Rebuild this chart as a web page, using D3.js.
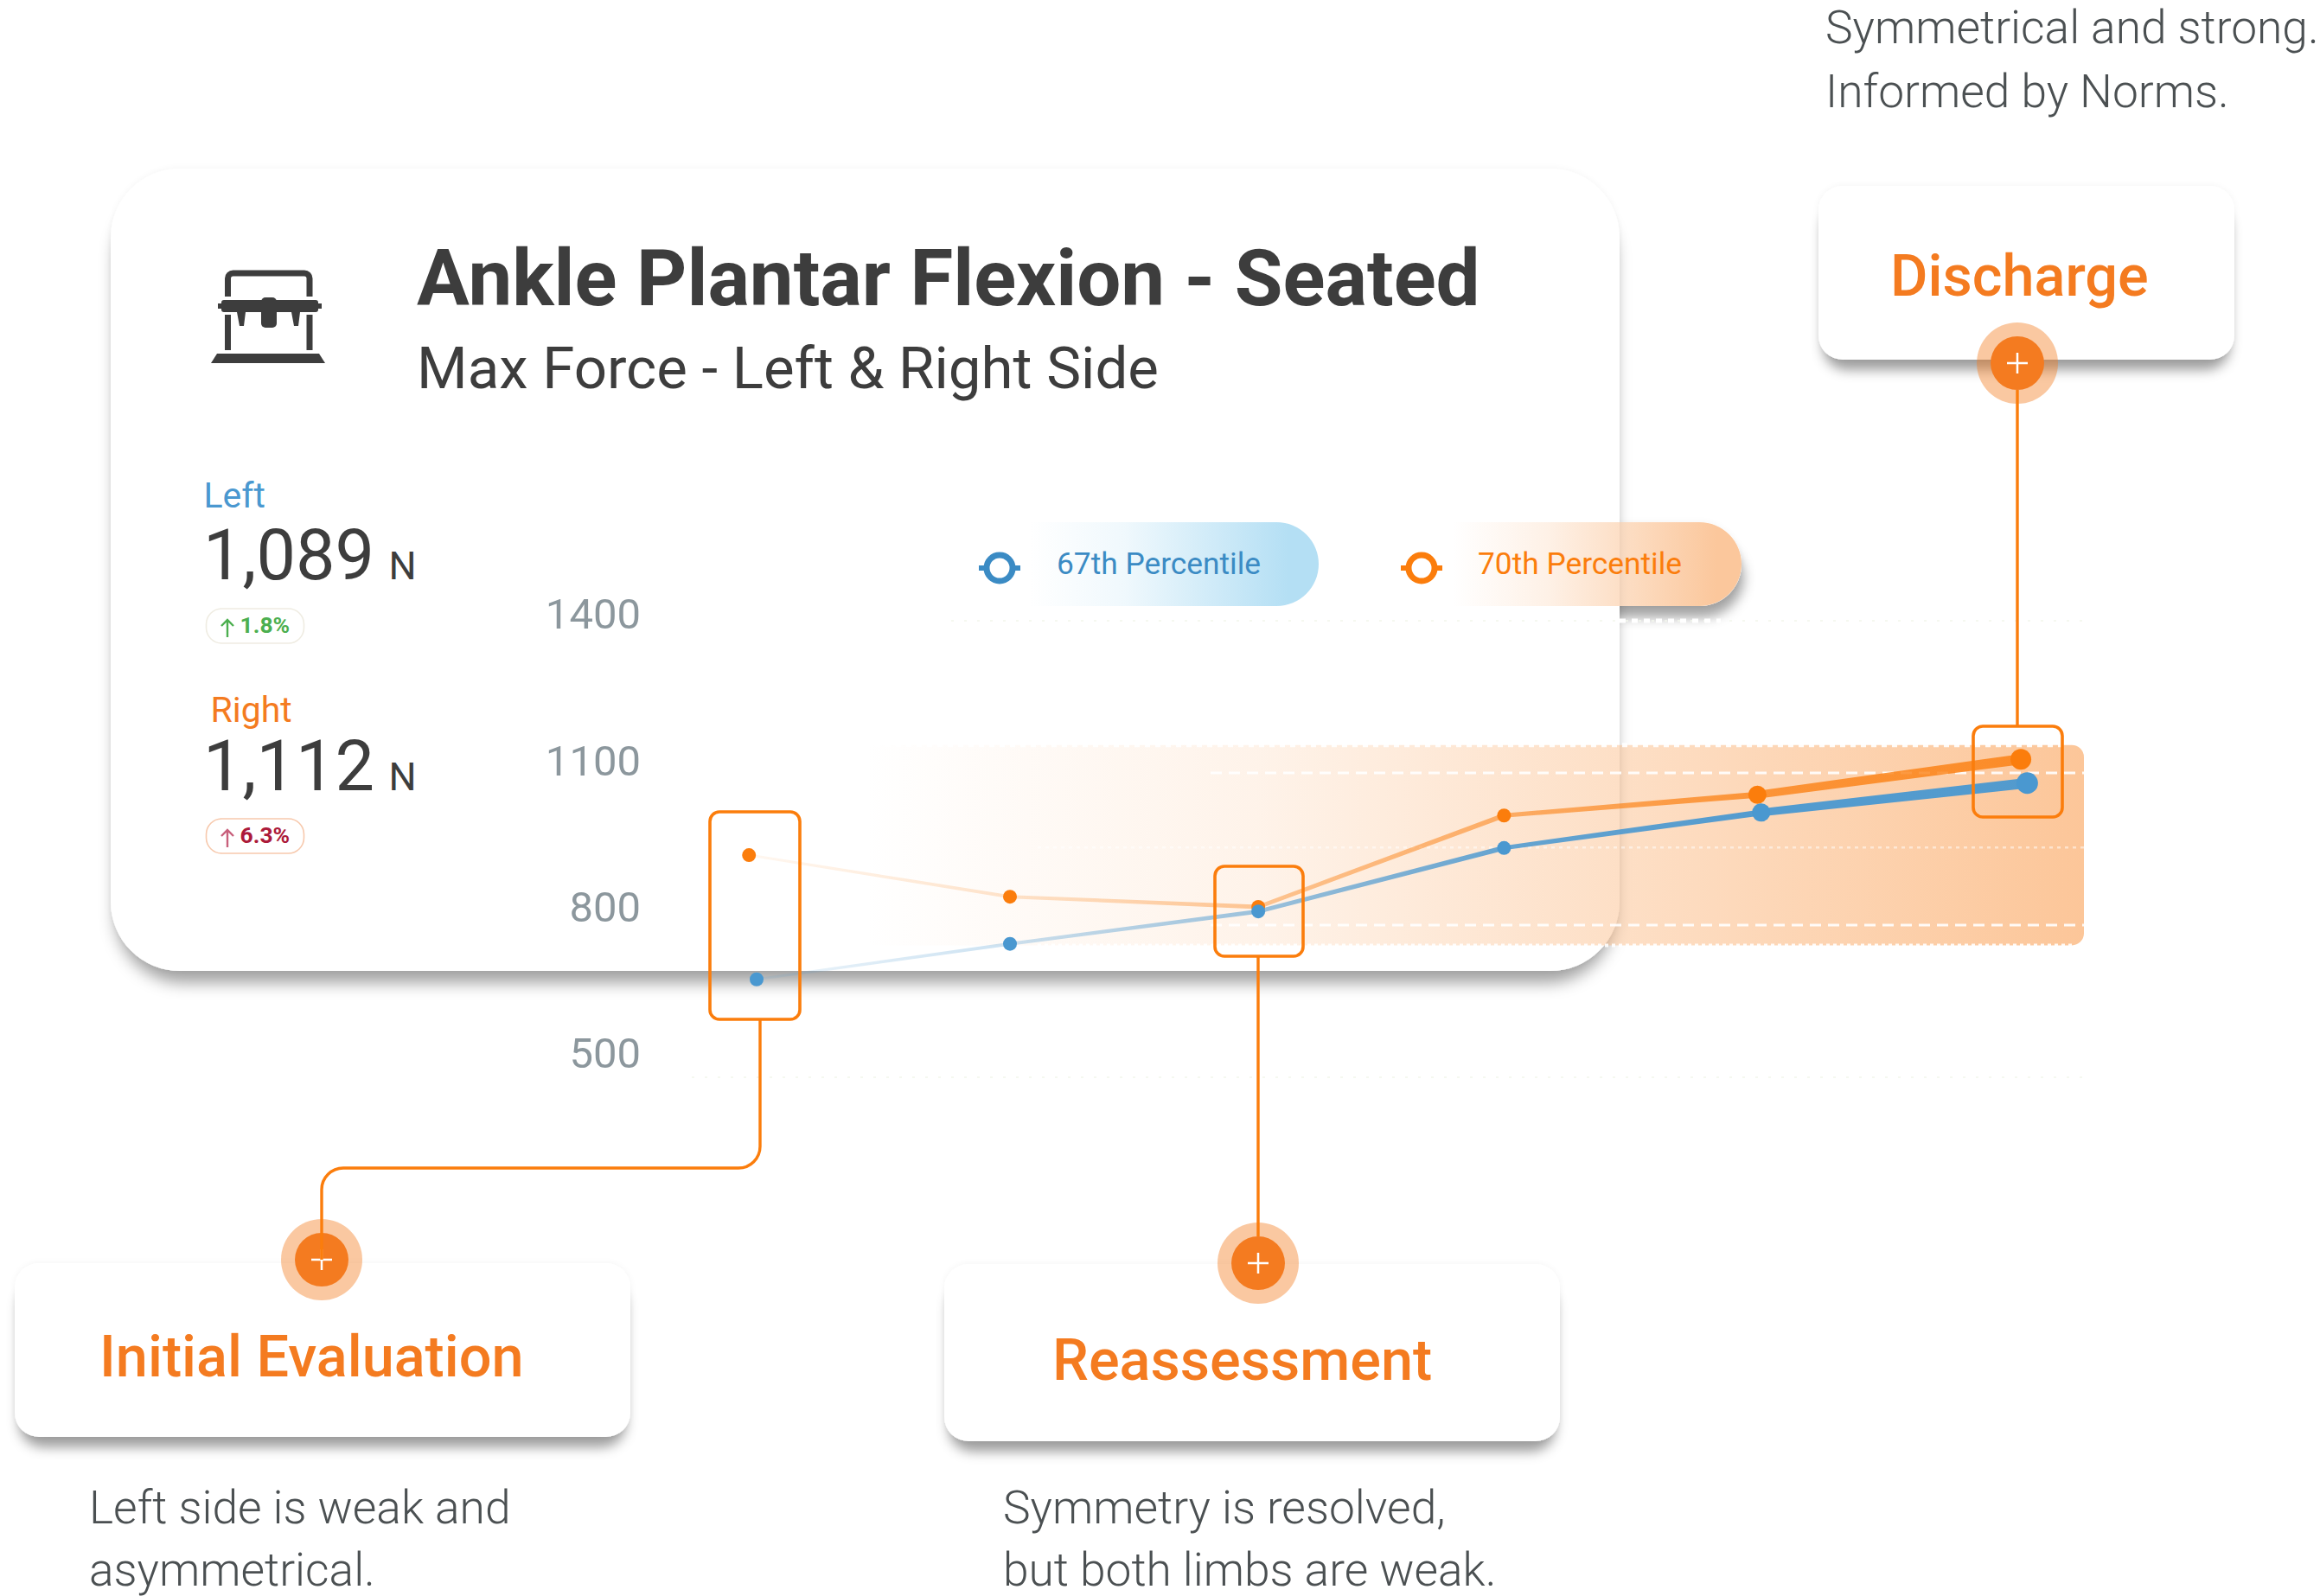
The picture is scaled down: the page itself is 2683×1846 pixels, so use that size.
<!DOCTYPE html>
<html><head><meta charset="utf-8">
<script src="https://cdn.jsdelivr.net/npm/d3@7"></script>
<style>html,body{margin:0;padding:0;background:#fff}svg{display:block}text{font-family:Roboto,sans-serif}</style>
</head><body><div id="chart"></div>
<script>
// ---- data ----
const yTicks = [1400, 1100, 800, 500];
const rightSessions = [0.97, 2.0, 2.98, 3.95, 4.95, 5.99];
const leftSessions  = [1.0, 2.0, 2.98, 3.95, 4.965, 6.015];
const rightValues = [938, 856, 836, 1016, 1057, 1127];
const leftValues  = [693, 763, 827, 952, 1022, 1080];
const normTop = 1155, normUpper = 1100, normMid = 953, normLower = 800, normBottom = 760;
const legendLabels = ["67th Percentile", "70th Percentile"];
const stageNames = ["Initial Evaluation", "Reassessment", "Discharge"];
const stageNotes = [["Left side is weak and", "asymmetrical."], ["Symmetry is resolved,", "but both limbs are weak."], ["Symmetrical and strong.", "Informed by Norms."]];
const sideNames = ["Left", "Right"];
const sideForce = ["1,089", "1,112"];
const sideChange = ["1.8%", "6.3%"];
const title = "Ankle Plantar Flexion - Seated";
const subtitle = "Max Force - Left & Right Side";

// ---- style ----
const ORANGE = "#fb7d0c", BLUE = "#4a98d0", ACCENT = "#f47b20", DARK = "#3d3d3d", BODY = "#4b5052";

const W = 2683, H = 1846;
const svg = d3.select("#chart").append("svg").attr("width", W).attr("height", H).attr("viewBox", `0 0 ${W} ${H}`);
const defs = svg.append("defs");

const x = d3.scaleLinear().domain([1, 6]).range([875, 2340]);
const y = d3.scaleLinear().domain([500, 1400]).range([1246, 718]);
const yLabel = d3.scaleLinear().domain([500, 1400]).range([1219, 711]);

function shadow(id, dx, dy, sd, op, erode) {
  const f = defs.append("filter").attr("id", id).attr("filterUnits", "userSpaceOnUse")
    .attr("x", 0).attr("y", 0).attr("width", W).attr("height", H);
  f.append("feGaussianBlur").attr("in", "SourceAlpha").attr("stdDeviation", 4).attr("result", "amb");
  f.append("feComponentTransfer").attr("in", "amb").attr("result", "ambient")
    .append("feFuncA").attr("type", "linear").attr("slope", .05);
  f.append("feMorphology").attr("in", "SourceAlpha").attr("operator", "erode").attr("radius", erode).attr("result", "e");
  f.append("feGaussianBlur").attr("in", "e").attr("stdDeviation", sd).attr("result", "b");
  f.append("feOffset").attr("in", "b").attr("dx", dx).attr("dy", dy).attr("result", "o");
  f.append("feFlood").attr("flood-color", "#000").attr("flood-opacity", op).attr("result", "c");
  f.append("feComposite").attr("in", "c").attr("in2", "o").attr("operator", "in").attr("result", "s");
  const m = f.append("feMerge");
  m.append("feMergeNode").attr("in", "ambient");
  m.append("feMergeNode").attr("in", "s");
  m.append("feMergeNode").attr("in", "SourceGraphic");
}
shadow("cardShadow", 0, 19, 9, .36, 5);
shadow("smallShadow", 0, 17, 7, .38, 5);
shadow("pillShadow", 6, 16, 7, .36, 3);

function hGrad(id, x1, x2, stops) {
  const g = defs.append("linearGradient").attr("id", id).attr("gradientUnits", "userSpaceOnUse")
    .attr("x1", x1).attr("x2", x2).attr("y1", 0).attr("y2", 0);
  stops.forEach(s => g.append("stop").attr("offset", (s[0] - x1) / (x2 - x1)).attr("stop-color", s[1]).attr("stop-opacity", s[2]));
}
hGrad("bandGrad", 1000, 2410, [[1000, "#fbb377", 0], [1455, "#fbb377", .16], [1873, "#fbb377", .42], [2200, "#fbb377", .62], [2410, "#fbb377", .75]]);
hGrad("pillBlue", 1190, 1525, [[1190, "#b4dff4", 0], [1300, "#b4dff4", .2], [1490, "#b4dff4", 1], [1525, "#b4dff4", 1]]);
hGrad("pillOrange", 1680, 2014, [[1680, "#fbc79c", 0], [1790, "#fbc79c", .25], [1985, "#fbc79c", 1], [2014, "#fbc79c", 1]]);
const rightOp = [.06, .2, .4, .55, .75, .8], leftOp = [.1, .28, .55, .85, .95, .95];
hGrad("lineOrange", x(rightSessions[0]), x(rightSessions[5]), rightSessions.map((s, i) => [x(s), ORANGE, rightOp[i]]));
hGrad("lineBlue", x(leftSessions[0]), x(leftSessions[5]), leftSessions.map((s, i) => [x(s), BLUE, leftOp[i]]));

const pillPath = (x0, x1, yT, yB) => {
  const r = (yB - yT) / 2;
  return `M${x0},${yT}H${x1 - r}A${r},${r} 0 0 1 ${x1 - r},${yB}H${x0}Z`;
};
// orange legend pill shadow sits under the main card
svg.append("path").attr("d", pillPath(1790, 2014, 604, 701)).attr("fill", "#fff").attr("filter", "url(#pillShadow)");

// main card
svg.append("rect").attr("x", 128).attr("y", 195).attr("width", 1745).attr("height", 928).attr("rx", 80)
  .attr("fill", "#fff").attr("filter", "url(#cardShadow)");

// icon
const icon = svg.append("g").attr("fill", DARK);
icon.append("path").attr("d", "M263.5,343V322a6,6 0 0 1 6,-6H352a6,6 0 0 1 6,6V343").attr("fill", "none").attr("stroke", DARK).attr("stroke-width", 7);
icon.append("path").attr("d", "M263.5,364V405M358,364V405").attr("fill", "none").attr("stroke", DARK).attr("stroke-width", 7);
icon.append("path").attr("d", "M251,409H369L376,420H244Z");
icon.append("rect").attr("x", 256).attr("y", 347).attr("width", 112).attr("height", 14).attr("rx", 3);
icon.append("rect").attr("x", 252).attr("y", 351).attr("width", 120).attr("height", 6);
icon.append("rect").attr("x", 302).attr("y", 344).attr("width", 18).attr("height", 35).attr("rx", 5);
icon.append("path").attr("d", "M274,361H284L282,377H277ZM337,361H347L345,377H340Z");

// title
svg.append("text").attr("x", 482).attr("y", 353).attr("font-size", 90.6).attr("font-weight", 700).attr("fill", DARK).text(title);
svg.append("text").attr("x", 482).attr("y", 449).attr("font-size", 67.2).attr("font-weight", 400).attr("fill", DARK).text(subtitle);

// left / right stats
const statY = [[587, 670, 704, 732], [835, 914, 947, 975]];
const nameX = [235.5, 243.5];
const nameCol = [BLUE, ACCENT], chgCol = ["#4caf50", "#ac1a3a"], arrowCol = ["#4caf50", "#c8607c"], badgeCol = ["#efece2", "#f7c9ad"];
sideNames.forEach((n, i) => {
  const [a, b, c, d] = statY[i];
  svg.append("text").attr("x", nameX[i]).attr("y", a).attr("font-size", 41).attr("fill", nameCol[i]).text(n);
  svg.append("text").attr("x", 235).attr("y", b).attr("font-size", 81).attr("fill", DARK).text(sideForce[i]);
  svg.append("text").attr("x", 449.5).attr("y", b).attr("font-size", 45).attr("fill", DARK).text("N");
  svg.append("rect").attr("x", 238.5).attr("y", c).attr("width", 113).attr("height", 40).attr("rx", 18)
    .attr("fill", "#fff").attr("stroke", badgeCol[i]).attr("stroke-width", 1.6);
  svg.append("path").attr("d", `M263,${c + 33}V${c + 13}M256,${c + 20}L263,${c + 13}L270,${c + 20}`)
    .attr("fill", "none").attr("stroke", arrowCol[i]).attr("stroke-width", 2.4);
  svg.append("text").attr("x", 277.5).attr("y", d).attr("font-size", 26.5).attr("font-weight", 700).attr("fill", chgCol[i]).text(sideChange[i]);
});

// y axis labels
const axis = svg.append("g").attr("transform", "translate(741,0)")
  .call(d3.axisLeft(yLabel).tickValues(yTicks).tickSize(0).tickPadding(0).tickFormat(d3.format("d")));
axis.select(".domain").remove();
axis.selectAll("text").attr("font-size", 49).attr("fill", "#8c979d").style("font-family", "Roboto,sans-serif");

// norm band
const bandX0 = 1000, bandX1 = 2410;
svg.append("rect").attr("x", bandX0).attr("y", y(normTop)).attr("width", bandX1 - bandX0)
  .attr("height", y(normBottom) - y(normTop)).attr("rx", 14).attr("fill", "url(#bandGrad)");

// band and grid lines
const gridLine = (v, x0, x1, sw, dash, col, op) => svg.append("line")
  .attr("x1", x0).attr("x2", x1).attr("y1", y(v)).attr("y2", y(v))
  .attr("stroke", col).attr("stroke-width", sw).attr("stroke-dasharray", dash).attr("stroke-opacity", op);
gridLine(normTop, 1000, 2390, 5, "6 6", "#fff", .9);
gridLine(normUpper, 1400, 2410, 3, "13 8", "#fff", .9);
gridLine(normMid, 1200, 2410, 2.5, "4 5", "#fff", .5);
gridLine(normLower, 1400, 2410, 3, "13 8", "#fff", .9);
gridLine(normBottom, 1200, 2400, 4, "4 4", "#fff", .9);
gridLine(1400, 1100, 2420, 2, "3 12", "#f3f6ec", .8);
gridLine(1400, 1873, 1990, 5, "7 7", "#fff", 1);
gridLine(500, 800, 2420, 2, "3 12", "#f3f6ec", .8);

// series: tapered segments
const segW = [[3, 4], [4, 5], [5, 6], [5, 7], [9, 12]];
function drawSeries(sessions, values, gradId, color, radii) {
  const pts = sessions.map((s, i) => ({ s, v: values[i] }));
  const area = d3.area().x(d => x(d.s)).y0(d => y(d.v) - d.w / 2).y1(d => y(d.v) + d.w / 2);
  const segs = d3.pairs(pts).map(([a, b], i) => [{ ...a, w: segW[i][0] }, { ...b, w: segW[i][1] }]);
  svg.append("g").selectAll("path").data(segs).join("path").attr("d", area).attr("fill", `url(#${gradId})`);
  svg.append("g").selectAll("circle").data(pts).join("circle")
    .attr("cx", d => x(d.s)).attr("cy", d => y(d.v)).attr("r", (d, i) => radii[i]).attr("fill", color);
}
drawSeries(rightSessions, rightValues, "lineOrange", ORANGE, [8, 8, 8, 8, 10.5, 12]);
drawSeries(leftSessions, leftValues, "lineBlue", BLUE, [8, 8, 8, 8, 10.5, 12.5]);

// legend
const legendX = [[1190, 1525, 1156, 1222, "#3b8bc4", "url(#pillBlue)"], [1680, 2014, 1644, 1709, ORANGE, "url(#pillOrange)"]];
legendLabels.forEach((t, i) => {
  const [x0, x1, mx, tx, col, fill] = legendX[i];
  svg.append("path").attr("d", pillPath(x0, x1, 604, 701)).attr("fill", fill);
  svg.append("circle").attr("cx", mx).attr("cy", 657).attr("r", 15).attr("fill", "#fff").attr("stroke", col).attr("stroke-width", 7);
  svg.append("path").attr("d", `M${mx - 24},657h9M${mx + 15},657h9`).attr("stroke", col).attr("stroke-width", 6);
  svg.append("text").attr("x", tx).attr("y", 664).attr("font-size", 35.3).attr("fill", col).text(t);
});

// stage cards
const cards = [[17, 1461, 712, 201], [1092, 1462, 712, 205], [2103, 215, 481, 201]];
const cardTitleX = [115, 1217, 2186], cardTitleY = [1592, 1596, 342];
stageNames.forEach((n, i) => {
  const [cx, cy, cw, ch] = cards[i];
  svg.append("rect").attr("x", cx).attr("y", cy).attr("width", cw).attr("height", ch).attr("rx", 28)
    .attr("fill", "#fff").attr("filter", "url(#smallShadow)");
  svg.append("text").attr("x", cardTitleX[i]).attr("y", cardTitleY[i]).attr("font-size", 66.6).attr("font-weight", 500).attr("fill", ACCENT).text(n);
});

// notes
const noteX = [103, 1160, 2111], noteY = [[1762, 1834], [1762, 1834], [50, 124]];
stageNotes.forEach((ls, i) => ls.forEach((l, j) => {
  svg.append("text").attr("x", noteX[i]).attr("y", noteY[i][j]).attr("font-size", 53.3).attr("font-weight", 300).attr("fill", BODY).text(l);
}));

// markers
const markers = [[372, 1457], [1455, 1461], [2333, 420]];
markers.forEach(([mx, my]) => {
  svg.append("circle").attr("cx", mx).attr("cy", my).attr("r", 47).attr("fill", ACCENT).attr("fill-opacity", .42);
  svg.append("circle").attr("cx", mx).attr("cy", my).attr("r", 31).attr("fill", ACCENT);
  svg.append("path").attr("d", `M${mx - 12},${my}H${mx + 12}M${mx},${my - 12}V${my + 12}`).attr("stroke", "#fff").attr("stroke-width", 2.5);
});

// highlight boxes and connectors
const boxes = [[821, 939, 104, 240], [1405, 1002, 102, 104], [2282, 840, 103, 105]];
boxes.forEach(([bx, by, bw, bh]) => svg.append("rect").attr("x", bx).attr("y", by).attr("width", bw).attr("height", bh)
  .attr("rx", 11).attr("fill", "none").attr("stroke", ORANGE).attr("stroke-width", 3.6));
const connectors = [
  "M879,1179V1326A25,25 0 0 1 854,1351H397A25,25 0 0 0 372,1376V1457",
  "M1455,1106V1430",
  "M2333,841V451"
];
connectors.forEach(d => svg.append("path").attr("d", d).attr("fill", "none").attr("stroke", ORANGE).attr("stroke-width", 3.4));
</script></body></html>
